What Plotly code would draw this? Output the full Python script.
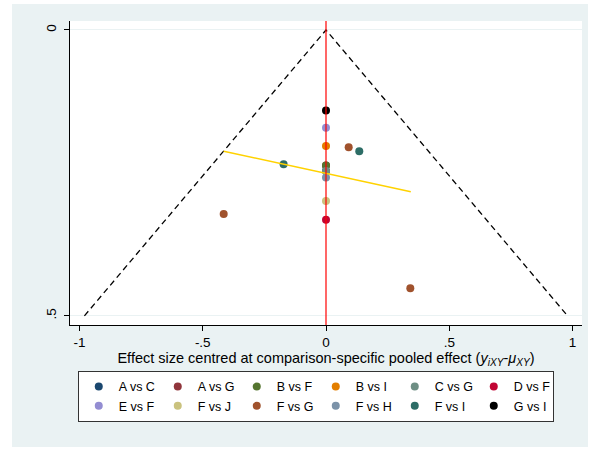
import plotly.graph_objects as go

# ---- data ----
comparisons = ["A vs C", "A vs G", "B vs F", "B vs I", "C vs G", "D vs F",
               "E vs F", "F vs J", "F vs G", "F vs H", "F vs I", "G vs I"]
colors = ["#1a476f", "#90353b", "#55752f", "#e37e00", "#6e8e84", "#c10534",
          "#938dd2", "#cac27e", "#a0522d", "#7b92a8", "#2d6d66", "#000000"]
effect_x = [
    [0.0],                    # A vs C
    [0.0],                    # A vs G
    [0.0],                    # B vs F
    [0.0],                    # B vs I
    [0.0],                    # C vs G
    [0.0],                    # D vs F
    [0.0],                    # E vs F
    [0.0],                    # F vs J
    [0.092, -0.415, 0.342],   # F vs G
    [0.0],                    # F vs H
    [0.135, -0.172],          # F vs I
    [0.0],                    # G vs I
]
se_y = [
    [0.2465],
    [0.237],
    [0.237],
    [0.203],
    [0.2465],
    [0.332],
    [0.171],
    [0.299],
    [0.205, 0.322, 0.4516],
    [0.258],
    [0.212, 0.235],
    [0.141],
]
funnel_x = [-0.98, 0.0, 0.98]
funnel_y = [0.5, 0.0, 0.5]
fit_x = [-0.415, 0.344]
fit_y = [0.212, 0.283]
x_ticks = [-1, -0.5, 0, 0.5, 1]
x_ticklabels = ["-1", "-.5", "0", ".5", "1"]
y_ticks = [0, 0.5]
y_ticklabels = ["0", ".5"]

FONT = "Liberation Sans, Arial, sans-serif"

fig = go.Figure()

# funnel (pseudo 95% CI) lines
fig.add_trace(go.Scatter(x=funnel_x, y=funnel_y, mode="lines",
                         line=dict(color="black", width=1.3, dash="6px,4px"),
                         showlegend=False, hoverinfo="skip"))

for name, c, xs, ys in zip(comparisons, colors, effect_x, se_y):
    fig.add_trace(go.Scatter(x=xs, y=ys, mode="markers", name=name,
                             marker=dict(color=c, size=8, line=dict(width=0))))

# fitted line
fig.add_trace(go.Scatter(x=fit_x, y=fit_y, mode="lines",
                         line=dict(color="#ffd200", width=1.5),
                         showlegend=False, hoverinfo="skip"))

fig.add_vline(x=0, line=dict(color="#ff0000", width=1.2), layer="above")

# background regions
fig.add_shape(type="rect", xref="paper", yref="paper",
              x0=-0.1133, x1=1.0117, y0=-0.4013, y1=1.0559,
              fillcolor="#eaf2f3", line=dict(width=0), layer="below")
fig.add_shape(type="rect", xref="paper", yref="paper",
              x0=0, x1=1, y0=0, y1=1,
              fillcolor="white", line=dict(width=0), layer="below")

fig.update_layout(
    width=589, height=455,
    margin=dict(l=70, r=7, t=21, b=130),
    paper_bgcolor="white", plot_bgcolor="rgba(0,0,0,0)",
    font=dict(family=FONT, size=13, color="black"),
    xaxis=dict(range=[-1.0385, 1.0385], tickvals=x_ticks, ticktext=x_ticklabels,
               showgrid=False, zeroline=False, showline=True, linecolor="black",
               linewidth=1, ticks="outside", ticklen=5, tickcolor="black",
               tickfont=dict(size=13.5),
               title=dict(text="Effect size centred at comparison-specific pooled effect "
                               "(<i>y</i><sub><i>iXY</i></sub>-<i>μ</i><sub><i>XY</i></sub>)",
                          font=dict(size=14.5), standoff=1)),
    yaxis=dict(range=[0.516, -0.0157], tickvals=y_ticks, ticktext=y_ticklabels,
               showgrid=True, gridcolor="#eaf2f3", gridwidth=1,
               zeroline=False, showline=True, linecolor="black", linewidth=1,
               ticks="outside", ticklen=5, tickcolor="black", tickangle=-90,
               tickfont=dict(size=13.5), ticklabelstandoff=3),
    legend=dict(orientation="h", x=0.48, xanchor="center", y=-0.1513, yanchor="top",
                bgcolor="white", bordercolor="#333333", borderwidth=1,
                font=dict(size=12.5), entrywidth=34, itemwidth=30,
                tracegroupgap=0),
    showlegend=True,
)

fig.write_html("out.html")
